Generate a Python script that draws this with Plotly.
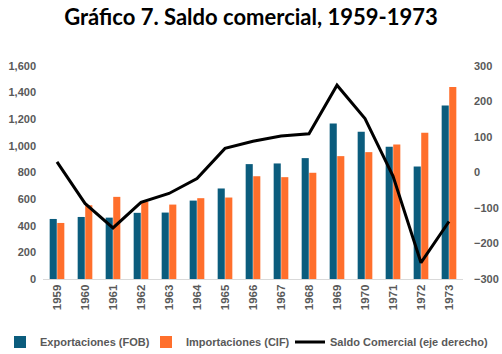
import plotly.graph_objects as go

years = [str(y) for y in range(1959, 1974)]
exportaciones = [451, 466, 461, 497, 499, 589, 680, 863, 868, 908, 1169, 1106, 993, 845, 1304]
importaciones = [421, 554, 617, 579, 559, 607, 612, 772, 765, 798, 923, 953, 1011, 1098, 1442]
saldo = [30, -87, -156, -84, -59, -17, 68, 88, 103, 109, 246, 152, -10, -254, -138]

tick_font = dict(family="Liberation Sans", size=11, color="#595959", weight="bold")
legend_font = dict(family="Liberation Sans", size=11, color="#595959", weight="bold")

fig = go.Figure()
fig.add_trace(go.Bar(x=years, y=exportaciones, name="Exportaciones (FOB)", legend="legend",
                     marker=dict(color="#0B5C7D", line=dict(width=0))))
fig.add_trace(go.Bar(x=years, y=importaciones, name="Importaciones (CIF)", legend="legend2",
                     marker=dict(color="#FF6F2C", line=dict(width=0))))
fig.add_trace(go.Scatter(x=years, y=saldo, name="Saldo Comercial (eje derecho)", legend="legend3",
                         mode="lines", line=dict(color="black", width=3), yaxis="y2"))


def leg(xpx):
    return dict(orientation="h", xref="container", x=xpx / 502, xanchor="left",
                yref="container", y=1 - 342 / 354, yanchor="middle",
                bgcolor="rgba(0,0,0,0)", font=legend_font, itemwidth=30)


fig.update_layout(
    width=502, height=354,
    margin=dict(l=43, r=39, t=66, b=75, autoexpand=False),
    paper_bgcolor="white", plot_bgcolor="white",
    title=dict(text="<b>Gráfico 7. Saldo comercial, 1959-1973</b>", x=0.5, xanchor="center",
               y=0.95, yanchor="middle",
               font=dict(family="Lato", size=22, color="black")),
    barmode="group", bargap=0.46, bargroupgap=0.06,
    xaxis=dict(tickangle=-90, tickfont=dict(family="Liberation Sans", size=11.5, color="#595959", weight="bold"),
               showline=True, linecolor="#D9D9D9", linewidth=1, ticks="", showgrid=False),
    yaxis=dict(range=[0, 1600], dtick=200, tickformat=",", showgrid=False, zeroline=False,
               ticklabelstandoff=6, tickfont=tick_font),
    yaxis2=dict(range=[-300, 300], dtick=100, overlaying="y", side="right", showgrid=False,
                zeroline=False, ticklabelstandoff=10, tickfont=tick_font),
    legend=leg(0),
    legend2=leg(146),
    legend3=leg(290),
    showlegend=True,
)

fig.write_html("out.html")
